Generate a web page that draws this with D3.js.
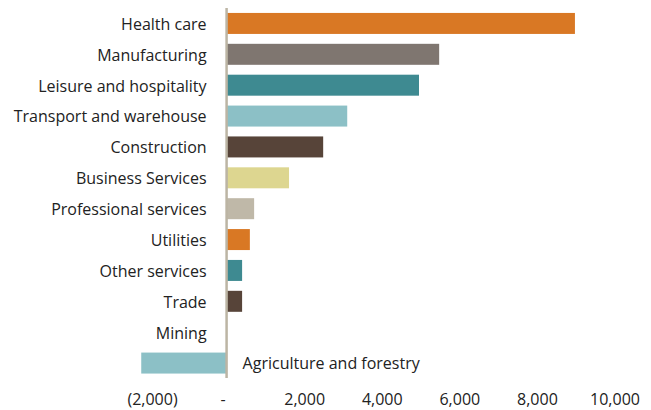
<!DOCTYPE html>
<html>
<head>
<meta charset="utf-8">
<script src="https://cdn.jsdelivr.net/npm/d3@7"></script>
<style>
  html, body { margin: 0; padding: 0; background: #fff; }
  svg { display: block; }
  text { font-family: "Open Sans", sans-serif; fill: #222; }
</style>
</head>
<body>
<svg id="chart" width="651" height="410"></svg>
<script>
// Employment change by sector
const sectors = [
  "Health care",
  "Manufacturing",
  "Leisure and hospitality",
  "Transport and warehouse",
  "Construction",
  "Business Services",
  "Professional services",
  "Utilities",
  "Other services",
  "Trade",
  "Mining",
  "Agriculture and forestry"
];
const values = [8980, 5480, 4960, 3110, 2490, 1610, 710, 600, 400, 400, 0, -2200];
const barColors = [
  "#d97824", "#7f7670", "#3e8a91", "#8cc0c6", "#574439", "#ddd690",
  "#bfb8a8", "#d97824", "#3e8a91", "#574439", "#8cc0c6", "#8cc0c6"
];
const tickValues = [-2000, 0, 2000, 4000, 6000, 8000, 10000];
const tickLabels = ["(2,000)", "-", "2,000", "4,000", "6,000", "8,000", "10,000"];

const svg = d3.select("#chart");

const x = d3.scaleLinear().domain([-2000, 10000]).range([149, 614.5]);
const y = d3.scaleBand().domain(sectors).range([8, 378.5]).paddingInner(0.32).paddingOuter(0.16);

const rows = sectors.map((s, i) => ({ sector: s, value: values[i], color: barColors[i] }));

// Bars
svg.append("g").selectAll("rect")
  .data(rows)
  .join("rect")
  .attr("x", d => x(Math.min(0, d.value)))
  .attr("y", d => y(d.sector))
  .attr("width", d => Math.abs(x(d.value) - x(0)))
  .attr("height", y.bandwidth())
  .attr("fill", d => d.color);

// Category labels: left of the axis, or right of it for negative bars
svg.append("g").selectAll("text")
  .data(rows)
  .join("text")
  .attr("x", d => d.value < 0 ? x(0) + 16 : x(0) - 20)
  .attr("y", d => y(d.sector) + y.bandwidth() / 2)
  .attr("dy", "0.4em")
  .attr("text-anchor", d => d.value < 0 ? "start" : "end")
  .style("font-size", "16px")
  .text(d => d.sector);

// Zero line (category axis)
svg.append("line")
  .attr("x1", x(0)).attr("x2", x(0))
  .attr("y1", 8).attr("y2", 378)
  .attr("stroke", "#bcb5a4")
  .attr("stroke-width", 2.5);

// Value axis labels
const xAxis = d3.axisBottom(x)
  .tickValues(tickValues)
  .tickFormat((d, i) => tickLabels[i])
  .tickSize(0)
  .tickPadding(0);

const ax = svg.append("g")
  .attr("transform", "translate(0,393.5)")
  .call(xAxis);
ax.select(".domain").remove();
ax.selectAll("text")
  .style("font-size", "16px")
  .style("font-family", "'Open Sans', sans-serif")
  .attr("fill", "#222")
  .attr("dx", d => d === 0 ? -4 : d < 0 ? 3 : 0);
</script>
</body>
</html>
